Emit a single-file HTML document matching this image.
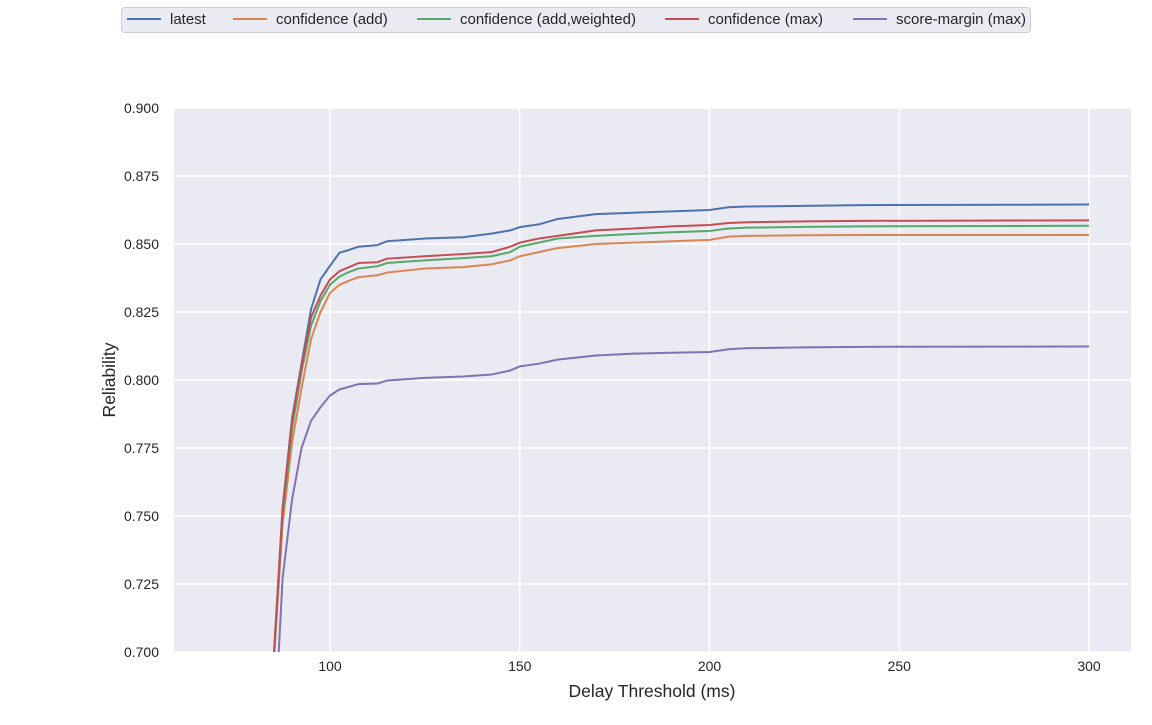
<!DOCTYPE html>
<html><head><meta charset="utf-8"><style>
body{margin:0;background:#fff;font-family:"Liberation Sans",Arial,sans-serif;}
</style></head><body>
<svg id="chart" width="1152" height="720" xmlns="http://www.w3.org/2000/svg" font-family="Liberation Sans, Arial, sans-serif">
<defs><clipPath id="clip"><rect x="174" y="108" width="957" height="544"/></clipPath></defs>
<rect x="174" y="108" width="957" height="544" fill="#eaeaf2"/>
<g id="grid"></g>
<g id="ticks"></g>
<g id="lines" clip-path="url(#clip)"></g>
<text x="652" y="697" font-size="17.5" text-anchor="middle" fill="#262626">Delay Threshold (ms)</text>
<text x="0" y="0" transform="translate(115,380) rotate(-90)" font-size="17.5" text-anchor="middle" fill="#262626">Reliability</text>
<g id="legend"></g>
</svg>
<script>
const xs=[85,87.5,90,92.5,95,97.5,100,102.5,105,107.5,112.5,115,125,135,142.5,147.5,150,155,160,170,180,190,200,205,210,225,240,300];
const latest=[.694,.753,.786,.806,.826,.837,.842,.8468,.8478,.8490,.8496,.8510,.8520,.8525,.8538,.8550,.8562,.8572,.8592,.8610,.8615,.8620,.8625,.8635,.8638,.8640,.8643,.8645];
const confAdd=[.692,.747,.777,.797,.815,.825,.832,.8350,.8365,.8378,.8385,.8395,.8410,.8415,.8425,.8440,.8455,.8470,.8485,.8500,.8505,.8510,.8515,.8527,.8530,.8532,.8533,.8533];
const confAddW=[.693,.750,.782,.803,.820,.829,.835,.8380,.8397,.8410,.8418,.8430,.8440,.8448,.8455,.8470,.8490,.8505,.8520,.8530,.8537,.8543,.8548,.8557,.8560,.8563,.8565,.8567];
const confMax=[.694,.752,.785,.805,.823,.831,.837,.8400,.8415,.8430,.8433,.8446,.8455,.8463,.8470,.8490,.8505,.8520,.8530,.8550,.8557,.8565,.8570,.8577,.8580,.8583,.8585,.8587];
const scoreMargin=[.660,.727,.756,.775,.785,.790,.7943,.7965,.7975,.7985,.7987,.7998,.8008,.8013,.8020,.8035,.8050,.8060,.8075,.8090,.8097,.8100,.8103,.8113,.8117,.8120,.8122,.8123];
const xTicks=[100,150,200,250,300];
const yTicks=[0.700,0.725,0.750,0.775,0.800,0.825,0.850,0.875,0.900];
const seriesNames=["latest","confidence (add)","confidence (add,weighted)","confidence (max)","score-margin (max)"];
const seriesData=[latest,confAdd,confAddW,confMax,scoreMargin];
const colors=["#4c72b0","#dd8452","#55a868","#c44e52","#8172b3"];
const NS="http://www.w3.org/2000/svg";
const X=v=>330+(v-100)*(759/200);
const Y=v=>652-(v-0.7)*(544/0.2);
function mk(tag,attrs,parent){const e=document.createElementNS(NS,tag);for(const k in attrs)e.setAttribute(k,attrs[k]);parent.appendChild(e);return e;}
const grid=document.getElementById('grid'),ticks=document.getElementById('ticks'),lines=document.getElementById('lines'),legend=document.getElementById('legend');
xTicks.forEach(t=>{
  const l=mk('line',{x1:X(t),x2:X(t),y1:108,y2:652,stroke:'#fff','stroke-width':1.5},grid);
  
  
  const tx=mk('text',{x:X(t),y:671,'font-size':14,'text-anchor':'middle',fill:'#262626'},ticks);
  tx.textContent=t;
  
  
});
yTicks.forEach(t=>{
  const l=mk('line',{x1:174,x2:1131,y1:Y(t),y2:Y(t),stroke:'#fff','stroke-width':1.5},grid);
  
  
  const tx=mk('text',{x:159,y:Y(t)+5,'font-size':14,'text-anchor':'end',fill:'#262626'},ticks);
  tx.textContent=t.toFixed(3);
  
  
});
seriesData.forEach((d,i)=>{
  const p=mk('polyline',{points:xs.map((x,j)=>X(x)+','+Y(d[j])).join(' '),fill:'none',stroke:colors[i],'stroke-width':2,'stroke-linejoin':'round'},lines);
  
  
});
const lb=mk('rect',{x:121.5,y:7.5,width:909,height:25,rx:3,fill:'#eaeaf2',stroke:'#cccccc','stroke-width':1},legend);


const legX=[127,233,417,665,853];
seriesNames.forEach((n,i)=>{
  const g=mk('g',{},legend);
  
  
  mk('line',{x1:legX[i],x2:legX[i]+34,y1:19,y2:19,stroke:colors[i],'stroke-width':2},g);
  const t=mk('text',{x:legX[i]+43,y:24,'font-size':15,fill:'#262626'},g);
  t.textContent=n;
});
</script>
</body></html>
